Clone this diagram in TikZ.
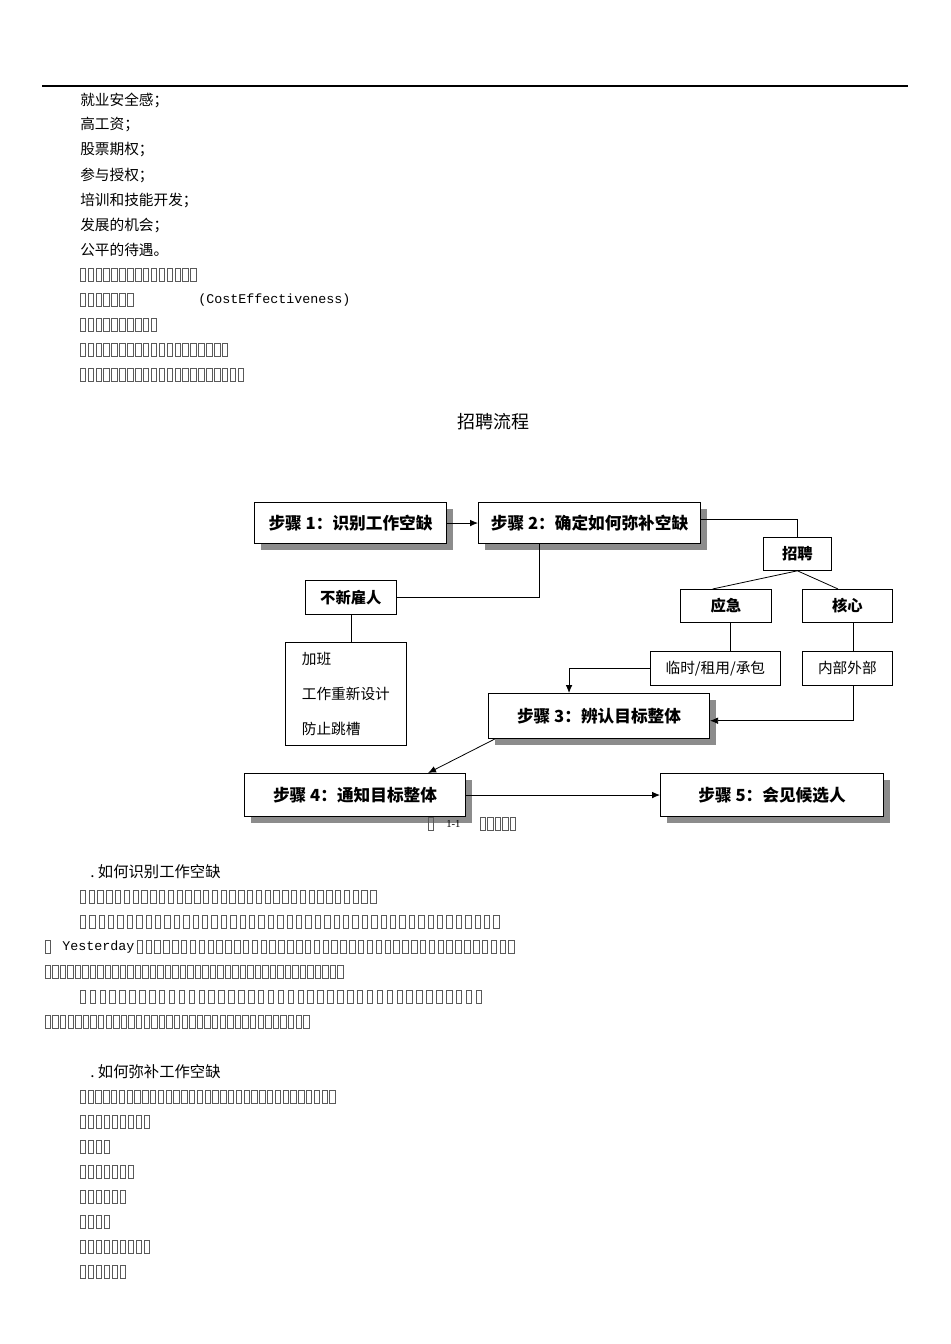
\documentclass[tikz,border=0pt]{standalone}
\usepackage{fontspec}
\setmainfont{Liberation Serif}
\newfontfamily\cjk{Noto Sans CJK SC}
\newfontfamily\monof{Liberation Mono}
\usetikzlibrary{arrows.meta,shadows}
\newcommand\boxrow[4]{\foreach \i in {1,...,#3}{\draw[black!65,line width=0.45pt] ({#1+(\i-1)*#4},{#2-6.5}) rectangle ++(5.5,13);}}
\tikzset{
 sbox/.style={draw,line width=0.8pt,fill=white,anchor=north west,align=left,inner xsep=6.5pt,
   drop shadow={fill=black!45,shadow xshift=4.5pt,shadow yshift=-4.5pt,opacity=1},
   font=\cjk\bfseries\fontsize{12.5}{14}\selectfont},
 pbox/.style={draw,line width=0.6pt,fill=white,anchor=north west,align=left,inner xsep=5pt,
   font=\cjk\bfseries\fontsize{11.5}{13}\selectfont},
 tbox/.style={draw,line width=0.6pt,fill=white,anchor=north west,align=left,inner xsep=5pt,
   font=\cjk\fontsize{11}{13}\selectfont},
 conn/.style={line width=0.6pt},
 arr/.style={line width=0.6pt,-{Latex[length=6pt,width=5pt]}},
 para/.style={anchor=west,inner sep=0pt,font=\cjk\fontsize{11}{13}\selectfont},
 head/.style={anchor=west,inner sep=0pt,font=\cjk\fontsize{11.5}{14}\selectfont}
}
\begin{document}
\begin{tikzpicture}[x=0.75pt,y=-0.75pt]
\useasboundingbox[fill=white] (0,0) rectangle (950,1344);
\draw[line width=0.8pt] (42,86) -- (908,86);
% list
\node[para] (l1) at (80,100) {就业安全感；};
\node[para] (l2) at (80,125) {高工资；};
\node[para] (l3) at (80,150) {股票期权；};
\node[para] (l4) at (80,175) {参与授权；};
\node[para] (l5) at (80,200) {培训和技能开发；};
\node[para] (l6) at (80,225) {发展的机会；};
\node[para] (l7) at (80,250) {公平的待遇。};
\boxrow{80}{275}{15}{7.9}
\boxrow{80}{300}{7}{7.9}
\node[anchor=west,inner sep=0pt,font=\monof\fontsize{10}{12}\selectfont] (ce) at (198,300) {(CostEffectiveness)};
\boxrow{80}{325}{10}{7.9}
\boxrow{80}{350}{19}{7.9}
\boxrow{80}{375}{21}{7.9}
\node[anchor=center,inner sep=0pt,font=\cjk\fontsize{13.5}{16}\selectfont] (title) at (493,422) {招聘流程};
% diagram
\node[sbox,minimum width=144pt,minimum height=30.75pt] (s1) at (254,502) {步骤 1：识别工作空缺};
\node[sbox,minimum width=166.5pt,minimum height=30.75pt] (s2) at (478,502) {步骤 2：确定如何弥补空缺};
\node[pbox,minimum width=51pt,minimum height=24.75pt] (zp) at (763,537) {招聘};
\node[pbox,minimum width=68.25pt,minimum height=25.5pt] (bx) at (305,580) {不新雇人};
\node[pbox,minimum width=68.25pt,minimum height=24.75pt] (yj) at (680,589) {应急};
\node[pbox,minimum width=67.5pt,minimum height=24.75pt] (hx) at (802,589) {核心};
\node[tbox,minimum width=90.75pt,minimum height=77.25pt,font=\cjk\fontsize{11}{26}\selectfont] (jb) at (285,642) {加班\\工作重新设计\\防止跳槽};
\node[tbox,minimum width=97.5pt,minimum height=25.5pt] (ls) at (650,651) {临时/租用/承包};
\node[tbox,minimum width=67.5pt,minimum height=25.5pt] (nb) at (802,651) {内部外部};
\node[sbox,minimum width=165.75pt,minimum height=33.75pt] (s3) at (488,693) {步骤 3：辨认目标整体};
\node[sbox,minimum width=165.75pt,minimum height=32.25pt] (s4) at (244,773) {步骤 4：通知目标整体};
\node[sbox,minimum width=167.25pt,minimum height=32.25pt] (s5) at (660,773) {步骤 5：会见候选人};
\draw[arr] (s1.east) -- (s2.west);
\draw[conn] ([yshift=3pt]s2.east) -| (zp.north);
\draw[conn] ([xshift=-37.5pt]s2.south) |- (bx.east);
\draw[conn] (bx.south) -- (bx.south |- jb.north);
\draw[conn] (zp.south) -- ([xshift=-10pt]yj.north);
\draw[conn] (zp.south) -- ([xshift=-7pt]hx.north);
\draw[conn] ([xshift=3.4pt]yj.south) -- ([xshift=3.4pt]yj.south |- ls.north);
\draw[conn] ([xshift=4.5pt]hx.south) -- ([xshift=4.5pt]hx.south |- nb.north);
\draw[arr] (ls.west) -| ([xshift=-22.5pt]s3.north);
\draw[arr] ([xshift=4.5pt]nb.south) |- ([yshift=-3.5pt]s3.east);
\draw[arr] ([xshift=5pt]s3.south west) -- ([xshift=138pt]s4.north west);
\draw[arr] (s4.east) -- (s5.west);
\boxrow{428}{824}{1}{8}
\node[anchor=west,inner sep=0pt,font=\fontsize{8}{10}\selectfont] (cap) at (446,824) {1-1};
\boxrow{480}{824}{5}{7.5}
% section 1
\node[head] (h1) at (90,872) {.\ 如何识别工作空缺};
\boxrow{80}{897}{34}{8.8}
\boxrow{80}{922}{45}{9.4}
\boxrow{45}{947}{1}{9.4}
\node[anchor=west,inner sep=0pt,font=\monof\fontsize{10}{12}\selectfont] (yd) at (62,947) {Yesterday};
\boxrow{137}{947}{43}{8.85}
\boxrow{45}{972}{40}{7.5}
\boxrow{80}{997}{41}{9.9}
\boxrow{45}{1022}{35}{7.6}
% section 2
\node[head] (h2) at (90,1072) {.\ 如何弥补工作空缺};
\boxrow{80}{1097}{33}{7.8}
\boxrow{80}{1122}{9}{8}
\boxrow{80}{1147}{4}{8}
\boxrow{80}{1172}{7}{8}
\boxrow{80}{1197}{6}{8}
\boxrow{80}{1222}{4}{8}
\boxrow{80}{1247}{9}{8}
\boxrow{80}{1272}{6}{8}
\end{tikzpicture}
\end{document}
